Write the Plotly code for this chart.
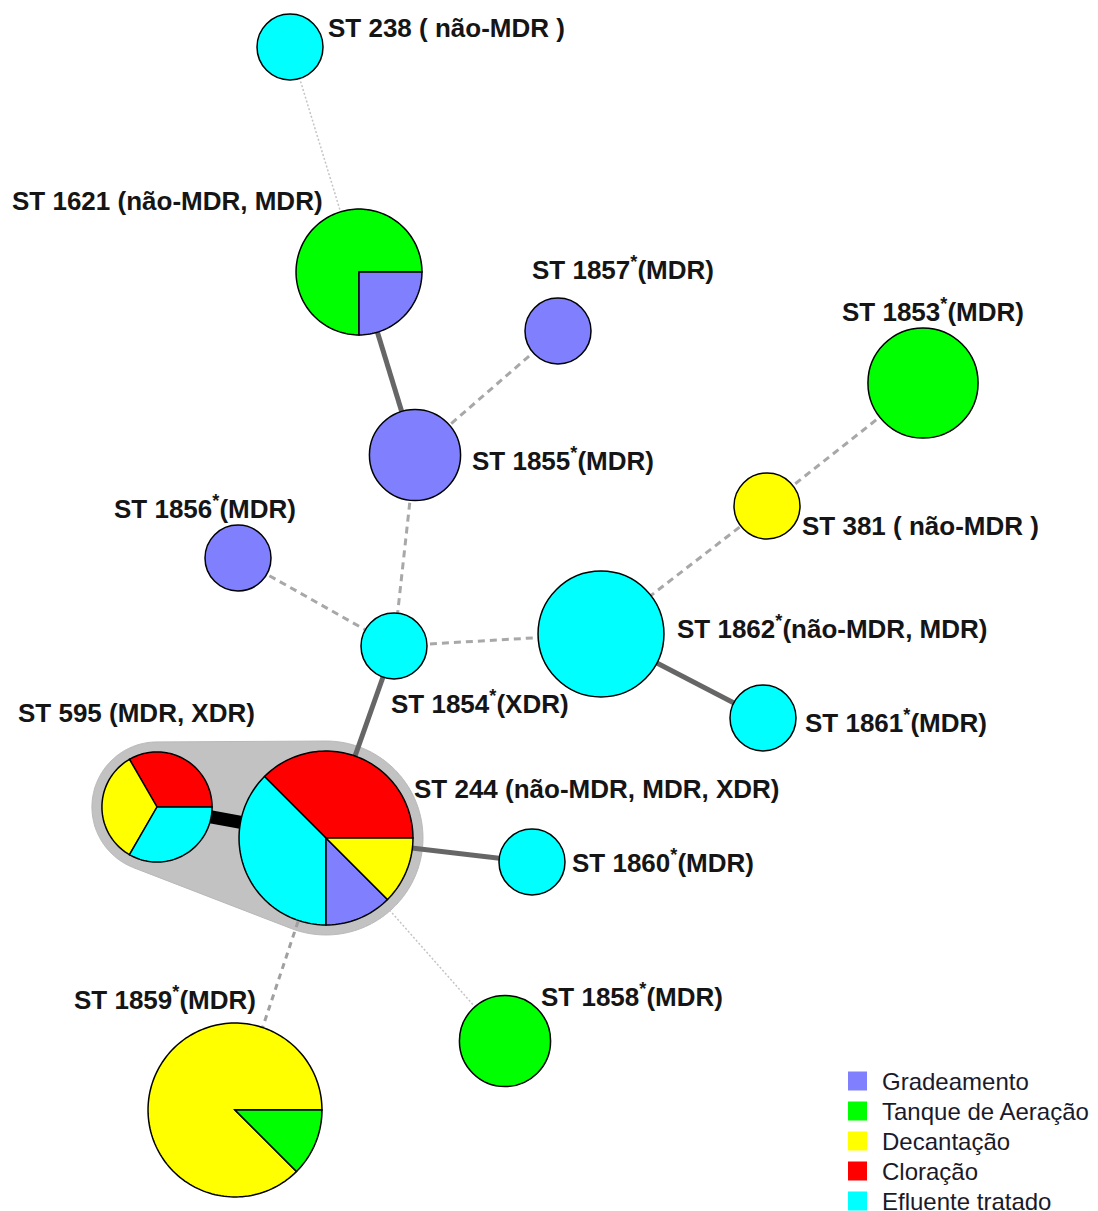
import math
import plotly.graph_objects as go

W, H = 1098, 1211

# sampling points (pie slice categories) and their colours
categories = ["Gradeamento", "Tanque de Aeração", "Decantação", "Cloração", "Efluente tratado"]
cat_colors = ["#8080ff", "#00ff00", "#ffff00", "#ff0000", "#00ffff"]

# sequence types: network layout position (pixel space, y downward)
st_ids = ["238", "1621", "1857", "1853", "1855", "381", "1856", "1854",
          "1862", "1861", "595", "244", "1860", "1858", "1859"]
node_x = [290, 359, 558, 923, 415, 767, 238, 394, 601, 763, 157, 326, 532, 505, 235]
node_y = [47, 272, 331, 383, 455, 506, 558, 646, 634, 718, 807, 838, 862, 1041, 1110]

# isolates per sampling point for each ST, in slice drawing order
slice_cats = [[4], [1, 0], [0], [1], [0], [2], [0], [4],
              [4], [4], [3, 2, 4], [3, 4, 0, 2], [4], [1], [2, 1]]
slice_counts = [[1], [3, 1], [1], [3], [2], [1], [1], [1],
                [4], [1], [1, 1, 1], [3, 3, 1, 1], [1], [2], [7, 1]]

# node labels: text ("|" marks a novel ST asterisk), anchor position
label_text = ["ST 238 ( não-MDR )", "ST 1621 (não-MDR, MDR)", "ST 1857|(MDR)",
              "ST 1853|(MDR)", "ST 1855|(MDR)", "ST 381 ( não-MDR )",
              "ST 1856|(MDR)", "ST 1854|(XDR)", "ST 1862|(não-MDR, MDR)",
              "ST 1861|(MDR)", "ST 595 (MDR, XDR)", "ST 244 (não-MDR, MDR, XDR)",
              "ST 1860|(MDR)", "ST 1858|(MDR)", "ST 1859|(MDR)"]
label_x = [326, 10, 530, 840, 470, 800, 112, 389, 675, 803, 16, 412, 570, 539, 72]
label_y = [28, 201, 268, 310, 459, 526, 507, 702, 627, 721, 713, 789, 861, 995, 998]

# minimum spanning tree edges and their link type
edge_from = ["238", "1621", "1855", "1855", "1856", "1854", "1862", "381",
             "1862", "1854", "244", "244", "244", "244"]
edge_to = ["1621", "1855", "1857", "1854", "1854", "1862", "381", "1853",
           "1861", "244", "1860", "595", "1859", "1858"]
edge_kind = ["dotted", "solid", "dashed", "dashed", "dashed", "dashed", "dashed", "dashed",
             "solid", "solid", "solid", "bold", "dashed2", "dotted"]

edge_style = {
    "bold": dict(color="#000000", width=13, dash="solid"),
    "solid": dict(color="#666666", width=5, dash="solid"),
    "dashed": dict(color="#a8a8a8", width=3, dash="7px,5px"),
    "dashed2": dict(color="#a0a0a0", width=3, dash="6px,5px"),
    "dotted": dict(color="#c4c4c4", width=1.5, dash="2px,2px"),
}

# clonal complex grouping drawn as a shaded hull
hull_members = ["595", "244"]
hull_pad = 10


def radius(n):
    return 33.0 * n ** 0.466


idx = {s: i for i, s in enumerate(st_ids)}
totals = [sum(c) for c in slice_counts]

fig = go.Figure()

# edges
for a, b, k in zip(edge_from, edge_to, edge_kind):
    i, j = idx[a], idx[b]
    st = edge_style[k]
    fig.add_trace(go.Scatter(
        x=[node_x[i], node_x[j]], y=[node_y[i], node_y[j]], mode="lines",
        line=dict(color=st["color"], width=st["width"], dash=st["dash"]),
        hoverinfo="skip", showlegend=False))

shapes = []

# hull around grouped STs (convex hull of padded circles)
pts = []
for s in hull_members:
    i = idx[s]
    r = radius(totals[i]) + hull_pad
    for t in range(360):
        a = math.radians(t)
        pts.append((node_x[i] + r * math.cos(a), node_y[i] + r * math.sin(a)))
pts = sorted(set(pts))


def cross(o, a, b):
    return (a[0] - o[0]) * (b[1] - o[1]) - (a[1] - o[1]) * (b[0] - o[0])


lower, upper = [], []
for p in pts:
    while len(lower) >= 2 and cross(lower[-2], lower[-1], p) <= 0:
        lower.pop()
    lower.append(p)
for p in reversed(pts):
    while len(upper) >= 2 and cross(upper[-2], upper[-1], p) <= 0:
        upper.pop()
    upper.append(p)
hull = lower[:-1] + upper[:-1]
hull_path = "M " + " L ".join(f"{x:.2f},{y:.2f}" for x, y in hull) + " Z"
shapes.append(dict(type="path", path=hull_path, xref="x", yref="y", layer="below",
                   fillcolor="#c2c2c2", line=dict(color="#b8b8b8", width=1)))

# pie nodes
for i in range(len(st_ids)):
    cx, cy = node_x[i], node_y[i]
    r = radius(totals[i])
    cats, cnts = slice_cats[i], slice_counts[i]
    if len(cats) == 1:
        shapes.append(dict(type="circle", xref="x", yref="y", layer="above",
                           x0=cx - r, x1=cx + r, y0=cy - r, y1=cy + r,
                           fillcolor=cat_colors[cats[0]],
                           line=dict(color="#000000", width=1.5)))
        continue
    start = 0.0
    for c, n in zip(cats, cnts):
        span = 360.0 * n / totals[i]
        steps = max(4, int(span / 2))
        seg = []
        for k in range(steps + 1):
            a = math.radians(start + span * k / steps)
            seg.append(f"{cx + r * math.cos(a):.2f},{cy - r * math.sin(a):.2f}")
        path = f"M {cx},{cy} L " + " L ".join(seg) + " Z"
        shapes.append(dict(type="path", path=path, xref="x", yref="y", layer="above",
                           fillcolor=cat_colors[c],
                           line=dict(color="#000000", width=1.5)))
        start += span

# legend swatches
leg_x, leg_y0, leg_step, sw = 848, 1081, 30, 19
annotations = []
for k, (name, col) in enumerate(zip(categories, cat_colors)):
    yc = leg_y0 + k * leg_step
    shapes.append(dict(type="rect", xref="x", yref="y", layer="above",
                       x0=leg_x, x1=leg_x + sw, y0=yc - sw / 2, y1=yc + sw / 2,
                       fillcolor=col, line=dict(width=0)))
    annotations.append(dict(x=leg_x + 32, y=yc, xref="x", yref="y", text=name,
                            showarrow=False, xanchor="left", yanchor="middle",
                            font=dict(family="Liberation Sans", size=24, color="#1a1a2a")))

# node labels
for t, x, y in zip(label_text, label_x, label_y):
    txt = t.replace("|", "<sup>*</sup>")
    annotations.append(dict(x=x, y=y, xref="x", yref="y", text=f"<b>{txt}</b>",
                            showarrow=False, xanchor="left", yanchor="middle",
                            font=dict(family="Liberation Sans", size=26, color="#151515")))

fig.update_layout(
    width=W, height=H, margin=dict(l=0, r=0, t=0, b=0),
    paper_bgcolor="white", plot_bgcolor="white",
    xaxis=dict(range=[0, W], visible=False, fixedrange=True),
    yaxis=dict(range=[H, 0], visible=False, fixedrange=True),
    shapes=shapes, annotations=annotations, showlegend=False,
)

fig.write_html("out.html")
